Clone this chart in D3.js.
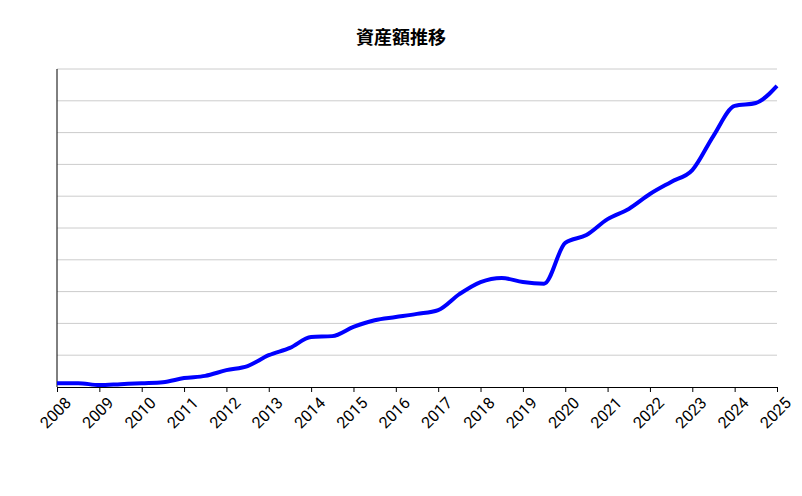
<!DOCTYPE html>
<html><head><meta charset="utf-8">
<script src="https://cdn.jsdelivr.net/npm/d3@7"></script>
<style>body{margin:0;background:#fff;font-family:Roboto,"Noto Sans CJK JP",sans-serif}</style>
</head><body><svg id="c" width="802" height="496"></svg>
<script>
// half-year samples, values in gridline units
var times = [2008,2008.5,2009,2009.5,2010,2010.5,2011,2011.5,2012,2012.5,2013,2013.5,2014,2014.5,2015,2015.5,2016,2016.5,2017,2017.5,2018,2018.5,2019,2019.5,2020,2020.5,2021,2021.5,2022,2022.5,2023,2023.5,2024,2024.5,2025];
var values = [0.12,0.12,0.06,0.09,0.12,0.15,0.28,0.35,0.53,0.66,1.0,1.23,1.57,1.6,1.89,2.1,2.2,2.3,2.42,2.92,3.3,3.43,3.3,3.25,4.53,4.78,5.28,5.6,6.07,6.45,6.82,7.9,8.84,8.93,9.47];
var years = d3.range(2008, 2026);
var title = "資産額推移";

var svg = d3.select("#c");
var m = {left:57, right:25, top:69, bottom:109};
var w = 802 - m.left - m.right, h = 496 - m.top - m.bottom;
var x = d3.scaleLinear().domain([2008,2025]).range([m.left, m.left + w]);
var y = d3.scaleLinear().domain([0,10]).range([m.top + h, m.top]);

// grid
svg.append("g").selectAll("line").data(d3.range(1,11)).join("line")
  .attr("x1", m.left).attr("x2", m.left + w)
  .attr("y1", function(d){return y(d);}).attr("y2", function(d){return y(d);})
  .attr("stroke", "#ccc").attr("stroke-width", 1);

// axes
svg.append("line").attr("x1", m.left).attr("x2", m.left).attr("y1", m.top).attr("y2", m.top + h).attr("stroke", "#000");
var xa = svg.append("g").attr("transform", "translate(0," + (m.top + h) + ")")
  .call(d3.axisBottom(x).tickValues(years).tickFormat(d3.format("d")).tickSize(5));
xa.select(".domain").attr("stroke", "#000");
xa.selectAll("text").attr("font-size", 16).attr("font-family", "Roboto, sans-serif").attr("fill", "#000")
  .attr("text-anchor", "end").attr("dx", "-0.1em").attr("dy", "0.9em")
  .attr("transform", "rotate(-45)");

// line
var line = d3.line().x(function(d,i){return x(times[i]);}).y(function(d){return y(d);}).curve(d3.curveMonotoneX);
svg.append("path").datum(values).attr("d", line)
  .attr("fill", "none").attr("stroke", "#0000ff").attr("stroke-width", 4);

svg.append("text").attr("x", 401).attr("y", 44).attr("text-anchor", "middle")
  .attr("font-size", 18).attr("font-weight", "bold").attr("font-family", "'Noto Sans CJK JP', sans-serif").text(title);
</script></body></html>
